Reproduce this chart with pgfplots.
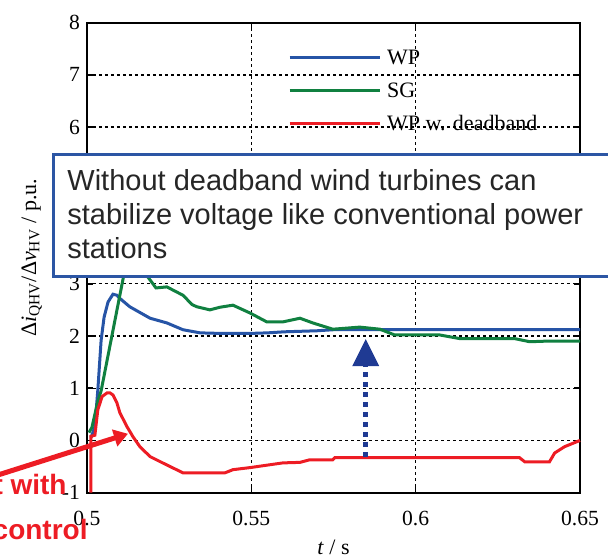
\documentclass[border=0pt]{standalone}
\usepackage{pgfplots}
\pgfplotsset{compat=1.18}
\usepackage{fontspec}
\setmainfont{Liberation Serif}
\newfontfamily\arial{Liberation Sans}
\usetikzlibrary{arrows.meta}
\definecolor{wpblue}{RGB}{38,84,166}
\definecolor{sggreen}{RGB}{16,128,64}
\definecolor{wpred}{RGB}{237,28,36}
\definecolor{boxblue}{RGB}{44,86,164}
\definecolor{arrowblue}{RGB}{31,58,147}
\definecolor{boxtext}{RGB}{38,38,38}
\begin{document}
\begin{tikzpicture}
\begin{axis}[
  width=246.5pt, height=235pt, scale only axis,
  xmin=0.5, xmax=0.65, ymin=-1, ymax=8,
  xtick={0.5,0.55,0.6,0.65}, xticklabels={0.5,0.55,0.6,0.65},
  ytick={-1,0,1,2,3,4,5,6,7,8},
  yticklabels={-1,0,1,2,3,4,5,6,7,8},
  tick align=inside, major tick length=3pt,
  xmajorgrids=true, ymajorgrids=true,
  major grid style={draw=black, line width=0.7pt, dash pattern=on 1.5pt off 1.5pt},
  axis line style={black, line width=0.9pt},
  major tick style={draw=black, line width=0.8pt},
  ticklabel style={font=\fontsize{10.8}{12}\selectfont},
  xticklabel style={yshift=-5.5pt},
  xlabel={\textit{t} / s},
  ylabel={Δ\textit{i}\textsubscript{QHV}/Δ\textit{v}\textsubscript{HV} / p.u.},
  label style={font=\fontsize{11}{12}\selectfont},
  xlabel style={at={(axis description cs:0.5,-0.117)}, anchor=center},
  ylabel style={at={(axis description cs:-0.112,0.5)}, anchor=center},
  clip=false,
  legend style={at={(axis cs:0.5611,6.706)}, anchor=west, draw=none, fill=none,
    inner sep=0pt, font=\fontsize{11}{12}\selectfont,
    nodes={inner sep=0pt, text height=7.5pt, text depth=0pt},
    row sep=9pt, column sep=3pt},
  legend image code/.code={\draw[#1] (0pt,0pt) -- (45pt,0pt);},
  legend cell align=left,
]
\addplot[wpblue, line width=1.5pt] coordinates {
(0.5012,0.05) (0.5024,0.26) (0.5033,0.97) (0.5043,1.92) (0.5052,2.36)
(0.5064,2.65) (0.5079,2.80) (0.5091,2.78) (0.5100,2.72) (0.5130,2.56)
(0.5192,2.34) (0.5243,2.25) (0.5292,2.12) (0.5344,2.06) (0.5400,2.05)
(0.5500,2.05) (0.5550,2.06) (0.5600,2.08) (0.5700,2.10) (0.5750,2.12)
(0.6500,2.12)};
\addlegendentry{WP}
\addplot[sggreen, line width=1.5pt] coordinates {
(0.5006,0.15) (0.5015,0.25) (0.5033,0.75) (0.5043,0.95) (0.5109,3.07)
(0.5140,4.00) (0.5165,3.50) (0.5185,3.13) (0.5210,2.92) (0.5243,2.94)
(0.5292,2.78) (0.5320,2.60) (0.5334,2.56) (0.5374,2.50) (0.5404,2.55)
(0.5444,2.59) (0.5496,2.44) (0.5547,2.27) (0.5596,2.27) (0.5648,2.34)
(0.5687,2.25) (0.5748,2.13) (0.5830,2.17) (0.5891,2.13) (0.5936,2.02)
(0.6073,2.02) (0.6134,1.95) (0.6301,1.95) (0.6347,1.89) (0.6392,1.90)
(0.6500,1.90)};
\addlegendentry{SG}
\addplot[wpred, line width=1.5pt] coordinates {
(0.5012,-1) (0.5012,0.08) (0.5024,0.10) (0.5033,0.59) (0.5046,0.84)
(0.5061,0.91) (0.5070,0.91) (0.5079,0.87) (0.5091,0.72) (0.5100,0.53)
(0.5122,0.26) (0.5140,0.07) (0.5161,-0.12) (0.5192,-0.31) (0.5243,-0.47)
(0.5292,-0.62) (0.5420,-0.62) (0.5444,-0.56) (0.5496,-0.52) (0.5596,-0.43)
(0.5648,-0.42) (0.5678,-0.37) (0.5748,-0.37) (0.5754,-0.33) (0.6316,-0.33)
(0.6332,-0.41) (0.6407,-0.41) (0.6423,-0.24) (0.6453,-0.12) (0.6500,0.0)};
\addlegendentry{WP w. deadband}
\coordinate (BL) at (axis cs:0.47353,-2.263);
\coordinate (TR) at (axis cs:0.65852,8.434);
\coordinate (BoxA) at (axis cs:0.48966,3.133);
\coordinate (BoxB) at (axis cs:0.675,5.468);
\coordinate (T1) at (axis cs:0.49392,4.79);
\coordinate (T2) at (axis cs:0.49392,4.14);
\coordinate (T3) at (axis cs:0.49392,3.49);
\coordinate (RA) at (axis cs:0.4720,-0.68);
\coordinate (RB) at (axis cs:0.51247,0.128);
\coordinate (R1) at (axis cs:0.49392,-1.038);
\coordinate (R2) at (axis cs:0.5003,-1.899);
\coordinate (BA) at (axis cs:0.5848,-0.31);
\coordinate (BB) at (axis cs:0.5848,1.43);
\coordinate (BT) at (axis cs:0.5848,1.94);
\end{axis}
\draw[draw=boxblue, line width=1.5pt, fill=white] (BoxA) rectangle (BoxB);
\begin{scope}[every node/.style={inner sep=0pt, anchor=base west, text=boxtext, font=\arial\fontsize{14.5}{17}\selectfont}]
\node at (T1) {Without deadband wind turbines can};
\node at (T2) {stabilize voltage like conventional power};
\node at (T3) {stations};
\end{scope}
\draw[wpred, line width=2.5pt, -{Triangle[length=7pt,width=8.5pt]}] (RA) -- (RB);
\node[inner sep=0pt, anchor=base east, text=wpred, font=\arial\bfseries\fontsize{14}{16}\selectfont] at (R1) {t with};
\node[inner sep=0pt, anchor=base east, text=wpred, font=\arial\bfseries\fontsize{14}{16}\selectfont] at (R2) {control};
\draw[arrowblue, line width=2.5pt, dash pattern=on 2.5pt off 2.5pt] (BA) -- (BB);
\fill[arrowblue] (BT) -- ++(-6.75pt,-13.5pt) -- ++(13.5pt,0pt) -- cycle;
\pgfresetboundingbox
\useasboundingbox (BL) rectangle (TR);
\end{tikzpicture}
\end{document}
